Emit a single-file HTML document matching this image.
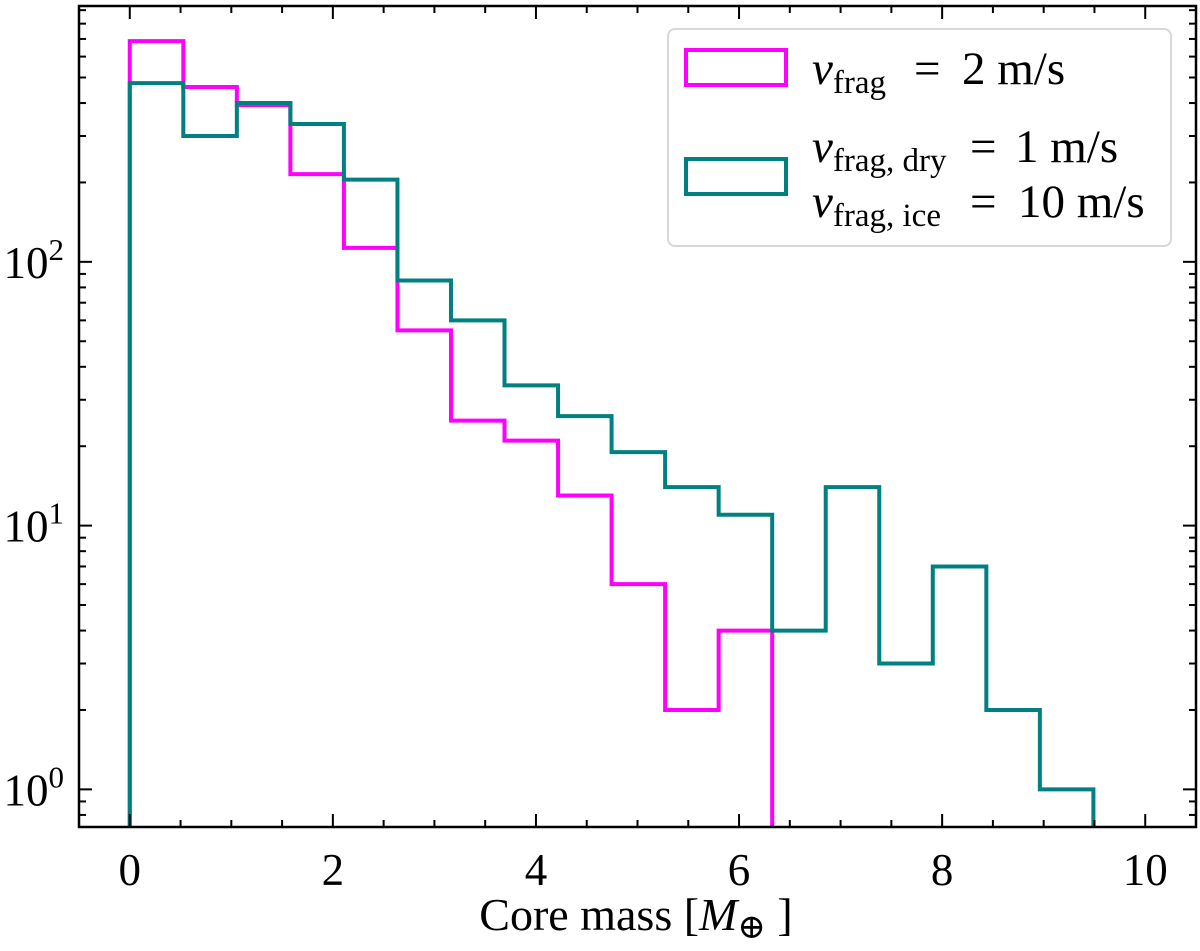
<!DOCTYPE html>
<html><head><meta charset="utf-8"><style>
html,body{margin:0;padding:0;background:#fff;}
svg text{font-family:"Liberation Serif","DejaVu Serif",serif;fill:#000;}
</style></head><body>
<svg id="chart" width="1200" height="946" viewBox="0 0 1200 946" xmlns="http://www.w3.org/2000/svg">
<defs><clipPath id="plotclip"><rect x="79" y="6" width="1117" height="821"/></clipPath></defs>
<g id="series" clip-path="url(#plotclip)"></g>
<rect x="79" y="6" width="1117" height="821" fill="none" stroke="#000" stroke-width="2.5"/>
<g id="ticks"></g>
<g id="legend">
  <rect x="668" y="29" width="503" height="217" rx="7" fill="#fff" fill-opacity="0.85" stroke="#d8d8d8" stroke-width="2"/>
  <rect x="686" y="50" width="100" height="35" fill="none" stroke="#ff00ff" stroke-width="4"/>
  <text x="812" y="84" font-size="47"><tspan font-style="italic">v</tspan><tspan font-size="33" dy="9">frag</tspan><tspan x="914" dy="-9">=</tspan><tspan x="962">2 m/s</tspan></text>
  <rect x="686" y="159" width="100" height="35" fill="none" stroke="#008080" stroke-width="4"/>
  <text x="812" y="162" font-size="47"><tspan font-style="italic">v</tspan><tspan font-size="33" dy="9">frag, dry</tspan><tspan x="970" dy="-9">=</tspan><tspan x="1015">1 m/s</tspan></text>
  <text x="812" y="217" font-size="47"><tspan font-style="italic">v</tspan><tspan font-size="33" dy="9">frag, ice</tspan><tspan x="970" dy="-9">=</tspan><tspan x="1018">10 m/s</tspan></text>
</g>
<text x="636" y="930" font-size="46" text-anchor="middle">Core mass [<tspan font-style="italic">M</tspan><tspan font-size="34" dy="8">⊕</tspan><tspan dy="-8"> ]</tspan></text>
</svg>
<script>
const binWidth = 0.5272;
const magentaCounts = [687, 460, 393, 215, 113, 55, 25, 21, 13, 6, 2, 4];
const tealCounts = [476, 300, 400, 333, 205, 85, 60, 34, 26, 19, 14, 11, 4, 14, 3, 7, 2, 1];
const xTickValues = [0, 2, 4, 6, 8, 10];
const xTickLabels = ["0", "2", "4", "6", "8", "10"];
const yTickExponents = [0, 1, 2];

const NS = "http://www.w3.org/2000/svg";
const X0 = 79, X1 = 1196, Y0 = 6, Y1 = 827;
const xMin = -0.5, xMax = 10.5;
const yLogMin = Math.log10(0.72), yLogMax = 2.97;
function xs(v){ return X0 + (v - xMin) / (xMax - xMin) * (X1 - X0); }
function ys(v){ return Y1 - (Math.log10(v) - yLogMin) / (yLogMax - yLogMin) * (Y1 - Y0); }

function stepPath(counts){
  let d = "M" + xs(0) + "," + (Y1 + 10);
  counts.forEach((c, i) => {
    const y = ys(c);
    d += " L" + xs(i * binWidth) + "," + y + " L" + xs((i + 1) * binWidth) + "," + y;
  });
  d += " L" + xs(counts.length * binWidth) + "," + (Y1 + 10);
  return d;
}
const series = document.getElementById("series");
const pm = document.createElementNS(NS, "path");
pm.setAttribute("d", stepPath(magentaCounts));
pm.setAttribute("fill", "none"); pm.setAttribute("stroke", "#ff00ff"); pm.setAttribute("stroke-width", "4");


series.appendChild(pm);
const pt = document.createElementNS(NS, "path");
pt.setAttribute("d", stepPath(tealCounts));
pt.setAttribute("fill", "none"); pt.setAttribute("stroke", "#008080"); pt.setAttribute("stroke-width", "4");


series.appendChild(pt);

const ticks = document.getElementById("ticks");
function line(x1, y1, x2, y2){
  const l = document.createElementNS(NS, "line");
  l.setAttribute("x1", x1); l.setAttribute("y1", y1); l.setAttribute("x2", x2); l.setAttribute("y2", y2);
  l.setAttribute("stroke", "#000"); l.setAttribute("stroke-width", "2");
  
  
  ticks.appendChild(l);
}
for (let v = 0; v <= 10.01; v += 0.5) {
  const major = Math.abs(v / 2 - Math.round(v / 2)) < 1e-6;
  const len = major ? 13 : 7;
  const x = xs(v);
  line(x, Y1, x, Y1 - len);
  line(x, Y0, x, Y0 + len);
}
xTickValues.forEach((v, i) => {
  const t = document.createElementNS(NS, "text");
  t.setAttribute("x", xs(v)); t.setAttribute("y", 885);
  t.setAttribute("font-size", "45"); t.setAttribute("text-anchor", "middle");
  t.textContent = xTickLabels[i];
  
  
  ticks.appendChild(t);
});
for (let e = -1; e <= 2; e++) {
  for (let m = 1; m <= 9; m++) {
    const v = m * Math.pow(10, e);
    if (v < 0.72 || v > Math.pow(10, yLogMax)) continue;
    const len = m === 1 ? 13 : 7;
    const y = ys(v);
    line(X0, y, X0 + len, y);
    line(X1, y, X1 - len, y);
  }
}
yTickExponents.forEach(e => {
  const t = document.createElementNS(NS, "text");
  t.setAttribute("x", 64); t.setAttribute("y", ys(Math.pow(10, e)) + 16);
  t.setAttribute("font-size", "45"); t.setAttribute("text-anchor", "end");
  const a = document.createElementNS(NS, "tspan"); a.textContent = "10";
  const b = document.createElementNS(NS, "tspan"); b.textContent = String(e);
  b.setAttribute("font-size", "31"); b.setAttribute("dy", "-18");
  t.appendChild(a); t.appendChild(b);
  
  
  ticks.appendChild(t);
});
</script>
</body></html>
